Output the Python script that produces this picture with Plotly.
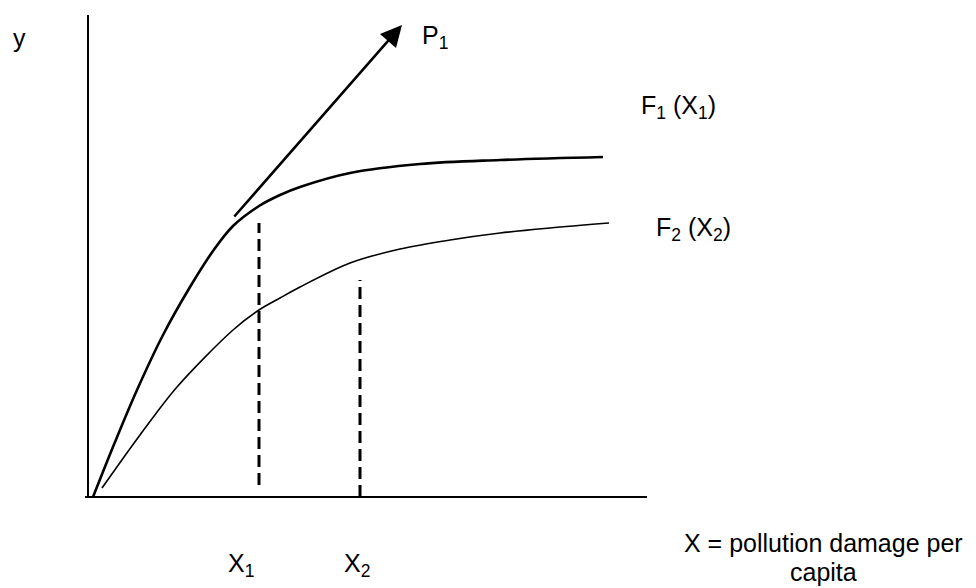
import plotly.graph_objects as go

# Diagram coordinates: origin at the corner of the axes (x right, y up)
axis_y_x = [0, 0]
axis_y_y = [0, 482]
axis_x_x = [-3, 559]
axis_x_y = [0, 0]

# F1(X1): upper curve (thicker)
f1_x = [5, 27, 49, 75, 102, 125, 145, 171, 192, 212, 262, 332, 412, 515]
f1_y = [0, 55, 107, 162, 210, 246, 271, 291, 302, 310, 324, 333, 337, 340]

# F2(X2): lower curve (thinner)
f2_x = [14, 52, 89, 145, 171, 192, 212, 262, 312, 362, 412, 462, 521]
f2_y = [9, 62, 110, 167, 187, 199, 210, 234, 248, 257, 264, 269, 274]

# dashed verticals at X1 and X2
x1_line_x = [171, 171]
x1_line_y = [12, 274]
x2_line_x = [272, 272]
x2_line_y = [0, 217]

# P1 tangent arrow (tail, tip)
p1_tail = (145, 279)
p1_tip = (314, 472)

FONT = "Liberation Sans, Arial, sans-serif"
fig = go.Figure()

fig.add_trace(go.Scatter(x=axis_y_x, y=axis_y_y, mode="lines", line=dict(color="black", width=2)))
fig.add_trace(go.Scatter(x=axis_x_x, y=axis_x_y, mode="lines", line=dict(color="black", width=2)))
fig.add_trace(go.Scatter(x=f1_x, y=f1_y, mode="lines", line=dict(color="black", width=2.6, shape="spline", smoothing=1.0)))
fig.add_trace(go.Scatter(x=f2_x, y=f2_y, mode="lines", line=dict(color="black", width=1.6, shape="spline", smoothing=0.9)))
fig.add_trace(go.Scatter(x=x1_line_x, y=x1_line_y, mode="lines", line=dict(color="black", width=3, dash="12px,6px")))
fig.add_trace(go.Scatter(x=x2_line_x, y=x2_line_y, mode="lines", line=dict(color="black", width=3, dash="12px,6px")))

fig.add_annotation(x=p1_tip[0], y=p1_tip[1], ax=p1_tail[0], ay=p1_tail[1],
                   xref="x", yref="y", axref="x", ayref="y", text="",
                   showarrow=True, arrowhead=2, arrowsize=1.7, arrowwidth=2.5,
                   arrowcolor="black", standoff=0, startstandoff=0)

def label(x, y, text, xanchor="left", yanchor="middle", size=25):
    fig.add_annotation(x=x, y=y, xref="x", yref="y", text=text, showarrow=False,
                       xanchor=xanchor, yanchor=yanchor, align="center", borderpad=0,
                       font=dict(family=FONT, size=size, color="black"))

label(-69, 459, "y", xanchor="center")
label(333, 460, "P<sub>1</sub>")
label(552, 390, "F<sub>1</sub> (X<sub>1</sub>)")
label(567, 268, "F<sub>2</sub> (X<sub>2</sub>)")
label(153, -68, "X<sub>1</sub>", xanchor="center")
label(269, -68, "X<sub>2</sub>", xanchor="center")
label(735, -46, "X = pollution damage per", xanchor="center", size=25)
label(735, -75, "capita", xanchor="center", size=25)

# ranges offset by 8px to compensate for the page's default body margin
fig.update_layout(
    width=976, height=588,
    margin=dict(l=0, r=0, t=0, b=0),
    paper_bgcolor="white", plot_bgcolor="white",
    showlegend=False,
    xaxis=dict(range=[-80, 896], visible=False, fixedrange=True),
    yaxis=dict(range=[-99, 489], visible=False, fixedrange=True),
)

fig.write_html("out.html")
